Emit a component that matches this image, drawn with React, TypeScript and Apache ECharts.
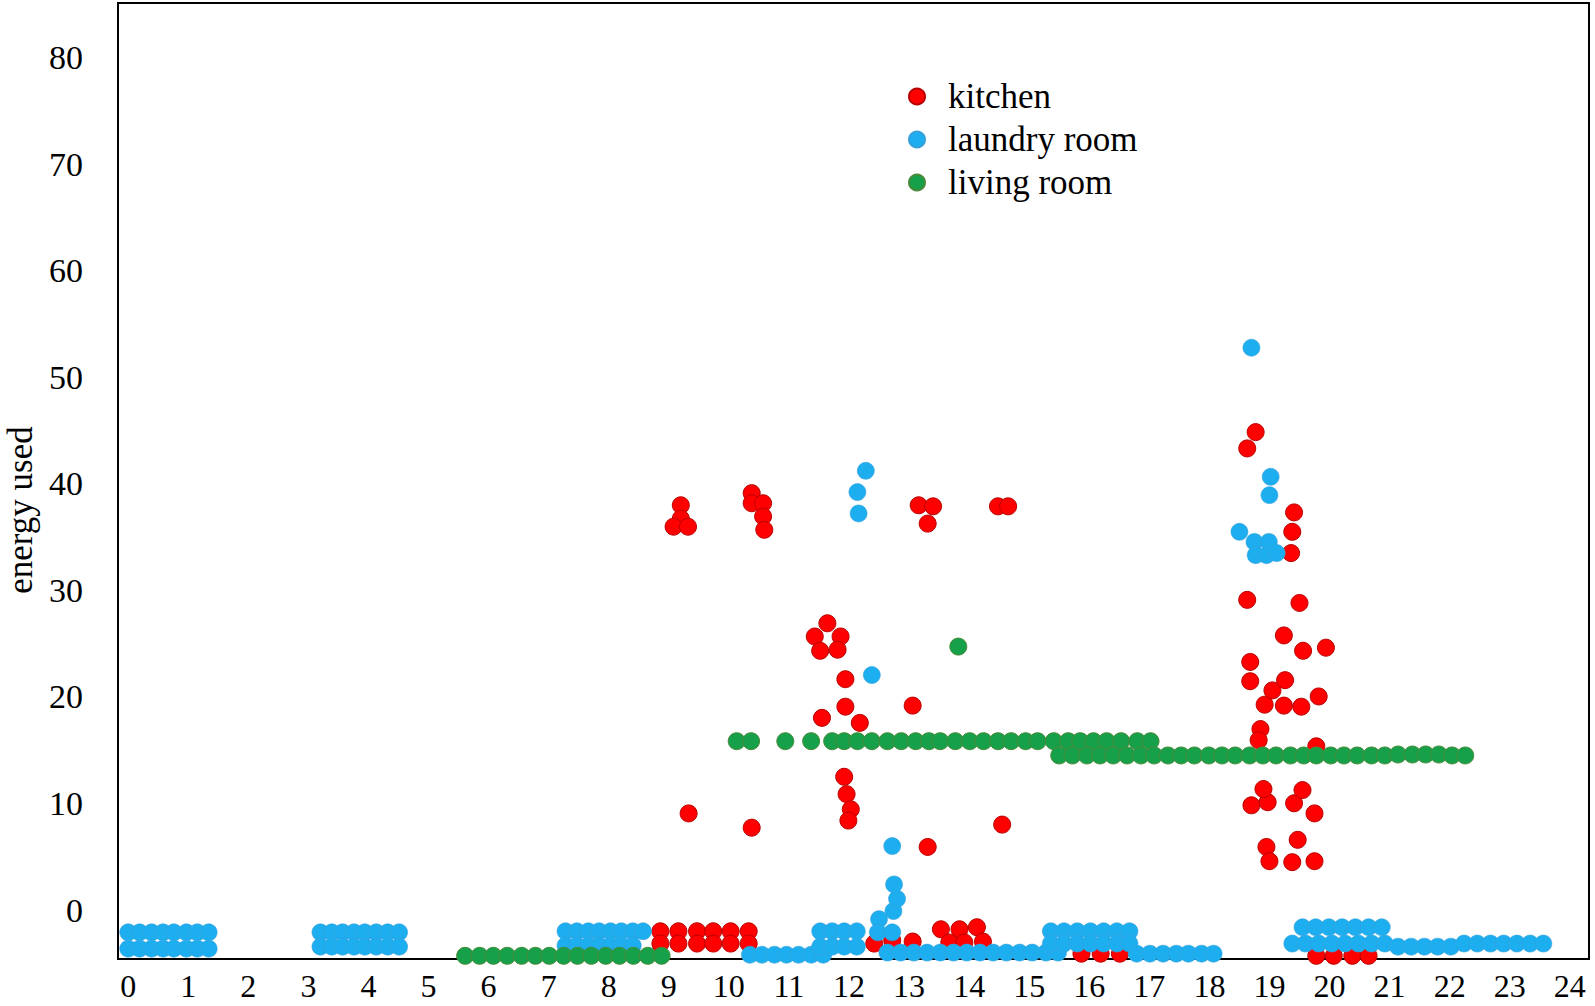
import { useEffect, useRef } from "react";
import * as echarts from "echarts";

const FONT = "'Liberation Serif', 'Times New Roman', serif";

const xTicks = [0, 1, 2, 3, 4, 5, 6, 7, 8, 9, 10, 11, 12, 13, 14, 15, 16, 17, 18, 19, 20, 21, 22, 23, 24];
const yTicks = [0, 10, 20, 30, 40, 50, 60, 70, 80];
const seriesNames = ["kitchen", "laundry room", "living room"];

// [hour, energy used]
const kitchen = [
  [8.86, -2.0], [9.16, -2.0], [9.47, -2.0], [9.74, -2.0], [10.03, -2.0], [10.33, -2.0],
  [8.86, -3.15], [9.16, -3.15], [9.47, -3.15], [9.74, -3.15], [10.03, -3.15], [10.33, -3.15],
  [9.2, 38.0], [9.2, 36.75], [9.08, 35.99], [9.32, 35.99], [9.33, 9.07],
  [10.38, 39.14], [10.38, 38.19], [10.57, 38.19], [10.57, 36.95], [10.59, 35.7], [10.38, 7.73],
  [11.43, 25.68], [11.64, 26.92], [11.86, 25.68], [11.52, 24.34], [11.81, 24.44], [11.94, 21.67],
  [11.55, 18.04], [11.94, 19.09], [12.18, 17.57], [11.92, 12.51], [11.96, 10.88], [12.03, 9.45], [11.99, 8.4],
  [13.06, 19.19], [13.16, 38.0], [13.4, 37.9], [13.31, 36.28], [13.31, 5.92],
  [14.48, 37.9], [14.65, 37.9], [14.55, 8.02],
  [12.42, -3.15], [12.72, -2.86], [13.06, -2.96],
  [13.53, -1.81], [13.84, -1.81], [14.13, -1.62], [13.67, -3.05], [13.92, -3.05], [14.23, -2.96],
  [15.87, -4.1], [16.19, -4.1], [16.51, -4.1],
  [19.78, -4.3], [20.07, -4.3], [20.38, -4.3], [20.65, -4.3],
  [18.63, 43.34], [18.77, 44.87], [18.63, 29.12], [18.68, 23.29], [18.68, 21.48], [18.85, 16.99],
  [18.82, 15.94], [18.7, 9.83], [18.97, 10.12], [18.9, 11.36], [18.95, 5.92], [19.0, 4.58],
  [18.92, 19.28], [19.05, 20.62], [19.24, 19.19], [19.24, 25.78], [19.26, 21.58],
  [19.41, 37.33], [19.38, 35.51], [19.36, 33.51], [19.5, 28.83], [19.56, 24.34], [19.53, 19.09],
  [19.41, 10.02], [19.55, 11.26], [19.47, 6.59], [19.38, 4.49], [19.75, 9.07], [19.75, 4.58],
  [19.82, 20.05], [19.78, 15.37], [19.94, 24.63],
];

const laundry = [
  [0.0, -2.1], [0.19, -2.1], [0.39, -2.1], [0.58, -2.1], [0.76, -2.1], [0.97, -2.1], [1.15, -2.1], [1.34, -2.1],
  [0.0, -3.63], [0.19, -3.63], [0.39, -3.63], [0.58, -3.63], [0.76, -3.63], [0.97, -3.63], [1.15, -3.63], [1.34, -3.63],
  [3.2, -2.1], [3.39, -2.1], [3.57, -2.1], [3.76, -2.1], [3.94, -2.1], [4.13, -2.1], [4.32, -2.1], [4.51, -2.1],
  [3.2, -3.44], [3.39, -3.44], [3.57, -3.44], [3.76, -3.44], [3.94, -3.44], [4.13, -3.44], [4.32, -3.44], [4.51, -3.44],
  [7.28, -2.0], [7.47, -2.0], [7.66, -2.0], [7.84, -2.0], [8.03, -2.0], [8.21, -2.0], [8.4, -2.0], [8.57, -2.0],
  [7.28, -3.34], [7.47, -3.34], [7.66, -3.34], [7.84, -3.34], [8.03, -3.34], [8.21, -3.34], [8.4, -3.34],
  [10.35, -4.2], [10.55, -4.2], [10.76, -4.2], [10.96, -4.2], [11.16, -4.2], [11.37, -4.2], [11.57, -4.2],
  [11.52, -2.0], [11.72, -2.0], [11.92, -2.0], [12.13, -2.0],
  [11.52, -3.44], [11.72, -3.44], [11.92, -3.44], [12.13, -3.44],
  [12.5, -0.86], [12.48, -2.1], [12.72, -2.1], [12.74, -0.1], [12.8, 1.05], [12.75, 2.4], [12.72, 6.0],
  [12.64, -4.0], [12.86, -4.0], [13.08, -4.0], [13.3, -4.0], [13.52, -4.0], [13.74, -4.0], [13.96, -4.0],
  [14.18, -4.0], [14.4, -4.0], [14.62, -4.0], [14.84, -4.0], [15.05, -4.0], [15.28, -4.0], [15.48, -4.0],
  [15.36, -2.0], [15.58, -2.0], [15.8, -2.0], [16.02, -2.0], [16.24, -2.0], [16.46, -2.0], [16.67, -2.0],
  [15.36, -3.15], [15.58, -3.15], [15.8, -3.15], [16.02, -3.15], [16.24, -3.15], [16.46, -3.15], [16.67, -3.15],
  [16.79, -4.1], [17.01, -4.1], [17.23, -4.1], [17.45, -4.1], [17.65, -4.1], [17.87, -4.1], [18.07, -4.1],
  [19.55, -1.62], [19.77, -1.62], [19.99, -1.62], [20.21, -1.62], [20.43, -1.62], [20.65, -1.62], [20.87, -1.62],
  [19.38, -3.15], [19.6, -3.15], [19.82, -3.15], [20.04, -3.15], [20.26, -3.15], [20.48, -3.15], [20.7, -3.15], [20.92, -3.15],
  [21.14, -3.44], [21.36, -3.44], [21.58, -3.44], [21.8, -3.44], [22.02, -3.44],
  [22.24, -3.15], [22.46, -3.15], [22.68, -3.15], [22.9, -3.15], [23.12, -3.15], [23.34, -3.15], [23.56, -3.15],
  [12.28, 41.24], [12.14, 39.24], [12.16, 37.23], [12.38, 22.06],
  [18.7, 52.79], [18.5, 35.51], [19.02, 40.67], [19.0, 38.95], [18.75, 34.56], [18.99, 34.56],
  [18.77, 33.32], [18.95, 33.32], [19.12, 33.51],
];

const living = [
  [5.61, -4.3], [5.85, -4.3], [6.08, -4.3], [6.31, -4.3], [6.55, -4.3], [6.78, -4.3], [7.01, -4.3], [7.25, -4.3],
  [7.48, -4.3], [7.71, -4.3], [7.95, -4.3], [8.18, -4.3], [8.41, -4.3], [8.65, -4.3], [8.88, -4.3],
  [13.82, 24.73],
  [10.13, 15.85], [10.37, 15.85], [10.94, 15.85], [11.37, 15.85], [11.72, 15.85], [11.92, 15.85], [12.14, 15.85],
  [12.38, 15.85], [12.64, 15.85], [12.87, 15.85], [13.11, 15.85], [13.33, 15.85], [13.52, 15.85], [13.77, 15.85],
  [14.01, 15.85], [14.24, 15.85], [14.48, 15.85], [14.7, 15.85], [14.94, 15.85], [15.14, 15.85], [15.41, 15.85],
  [15.65, 15.85], [15.85, 15.85], [16.07, 15.85], [16.29, 15.85], [16.53, 15.85], [16.8, 15.85], [17.02, 15.85],
  [15.5, 14.51], [15.72, 14.51], [15.96, 14.51], [16.18, 14.51], [16.4, 14.51], [16.63, 14.51], [16.86, 14.51],
  [17.08, 14.51], [17.31, 14.51], [17.53, 14.51], [17.75, 14.51], [17.99, 14.51], [18.21, 14.51], [18.43, 14.51],
  [18.67, 14.51], [18.89, 14.51], [19.11, 14.51], [19.35, 14.51], [19.57, 14.51], [19.78, 14.51], [20.02, 14.51],
  [20.24, 14.51], [20.46, 14.51], [20.7, 14.51], [20.92, 14.51], [21.14, 14.6], [21.38, 14.6], [21.6, 14.6],
  [21.82, 14.6], [22.04, 14.51], [22.26, 14.51],
];

export default function App() {
  const ref = useRef<HTMLDivElement>(null);

  useEffect(() => {
    document.body.style.margin = "0";
    document.body.style.overflow = "hidden";
    const chart = echarts.init(ref.current as HTMLDivElement, null, { renderer: "svg" });
    chart.setOption({
      animation: false,
      backgroundColor: "#ffffff",
      grid: {
        left: 118,
        right: 6,
        top: 3,
        bottom: 47,
        outerBoundsMode: "none",
        containLabel: false,
        show: true,
        borderColor: "#000",
        borderWidth: 2,
        backgroundColor: "transparent",
      },
      legend: {
        orient: "vertical",
        left: 908,
        top: 79,
        padding: 0,
        itemWidth: 52,
        itemHeight: 16,
        itemGap: 8,
        data: seriesNames,
        textStyle: { fontFamily: FONT, fontSize: 35, color: "#000", lineHeight: 30 },
      },
      xAxis: {
        type: "value",
        min: -0.17,
        max: 24.32,
        axisLine: { show: false },
        axisTick: { show: false },
        splitLine: { show: false },
        axisLabel: {
          customValues: xTicks,
          fontFamily: FONT,
          fontSize: 32,
          lineHeight: 24,
          color: "#000",
          margin: 15,
        },
      },
      yAxis: {
        type: "value",
        min: -4.6,
        max: 85.16,
        axisLine: { show: false },
        axisTick: { show: false },
        splitLine: { show: false },
        axisLabel: {
          customValues: yTicks,
          fontFamily: FONT,
          fontSize: 34,
          color: "#000",
          margin: 35,
        },
        name: "energy used",
        nameLocation: "middle",
        nameGap: 80,
        nameTextStyle: { fontFamily: FONT, fontSize: 35, color: "#000", padding: [0, 58, 0, 0] },
      },
      series: [
        {
          name: "kitchen",
          type: "scatter",
          symbolSize: 17,
          data: kitchen,
          itemStyle: { color: "#ff0000", borderColor: "#b80000", borderWidth: 1, opacity: 1 },
        },
        {
          name: "laundry room",
          type: "scatter",
          symbolSize: 17,
          data: laundry,
          itemStyle: { color: "#1caeee", borderColor: "#3aa0dc", borderWidth: 0.6, opacity: 1 },
        },
        {
          name: "living room",
          type: "scatter",
          symbolSize: 17,
          data: living,
          itemStyle: { color: "#17a04a", borderColor: "#4a8a3a", borderWidth: 1, opacity: 1 },
        },
      ],
    });
    return () => chart.dispose();
  }, []);

  return <div ref={ref} style={{ width: 1595, height: 1006 }} />;
}
